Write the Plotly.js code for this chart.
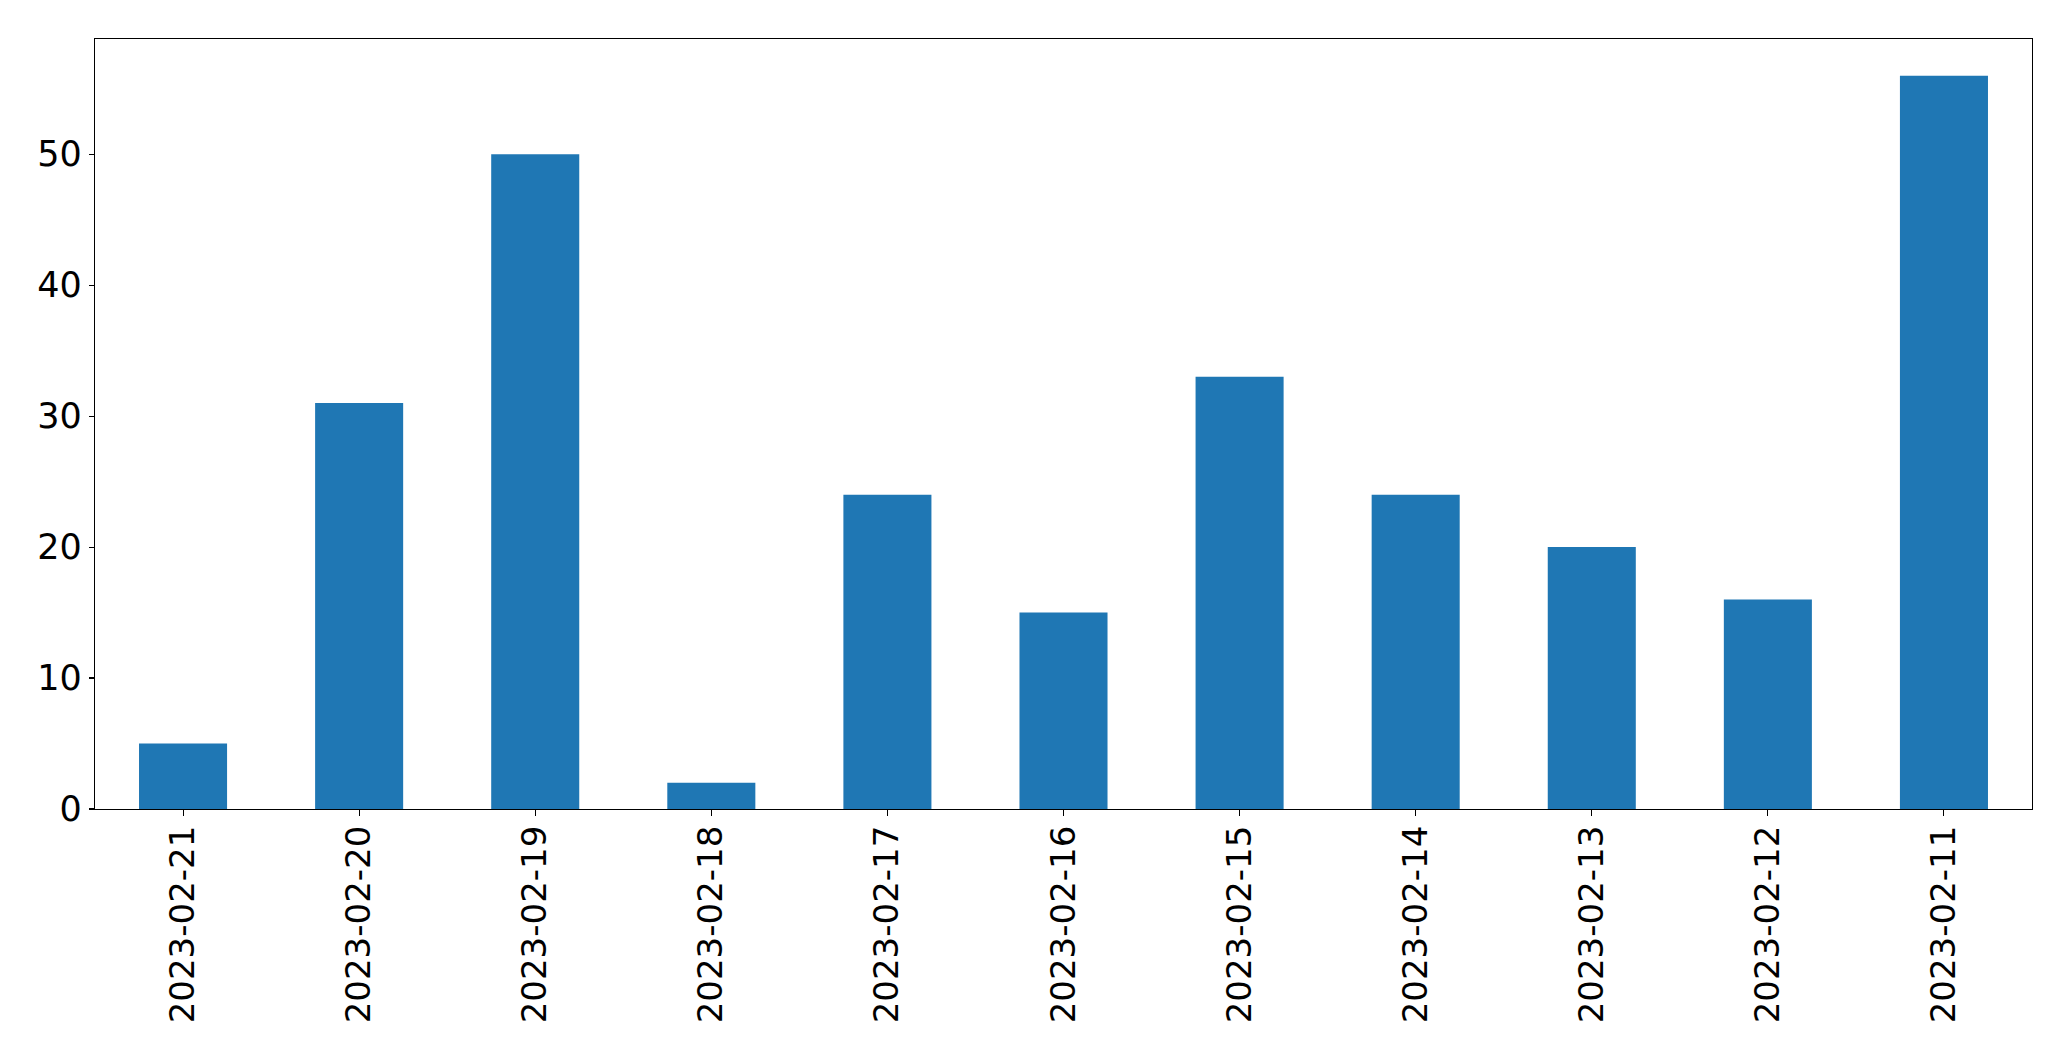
<!DOCTYPE html>
<html>
<head>
<meta charset="utf-8">
<script src="https://cdn.plot.ly/plotly-3.0.1.min.js"></script>
<style>html,body{margin:0;padding:0;background:#fff;}</style>
</head>
<body>
<div id="chart" style="width:2071px;height:1061px;"></div>
<script>
const dates = ["2023-02-21","2023-02-20","2023-02-19","2023-02-18","2023-02-17","2023-02-16","2023-02-15","2023-02-14","2023-02-13","2023-02-12","2023-02-11"];
const counts = [5, 31, 50, 2, 24, 15, 33, 24, 20, 16, 56];
const yTicks = [0, 10, 20, 30, 40, 50];

const trace = {
  type: 'bar',
  x: dates,
  y: counts,
  width: 0.5,
  marker: {color: '#1f77b4', line: {width: 0}},
  hoverinfo: 'x+y'
};

const layout = {
  width: 2071,
  height: 1061,
  margin: {l: 94.7, r: 39.3, t: 39.3, b: 252, pad: 0},
  paper_bgcolor: '#ffffff',
  plot_bgcolor: '#ffffff',
  showlegend: false,
  font: {family: 'DejaVu Sans', size: 34, color: '#000000'},
  xaxis: {
    type: 'category',
    range: [-0.5, dates.length - 0.5],
    tickangle: -90,
    ticks: 'outside',
    ticklen: 6,
    tickwidth: 1.1,
    tickcolor: '#000',
    ticklabelstandoff: -4,
    showgrid: false,
    zeroline: false,
    showline: true,
    linecolor: '#000',
    linewidth: 1.1,
    mirror: true,
    tickfont: {family: 'DejaVu Sans', size: 34, color: '#000'}
  },
  yaxis: {
    range: [0, 58.8],
    tickvals: yTicks,
    ticktext: yTicks.map(String),
    ticks: 'outside',
    ticklen: 5,
    tickwidth: 1.1,
    tickcolor: '#000',
    showgrid: false,
    zeroline: false,
    showline: true,
    linecolor: '#000',
    linewidth: 1.1,
    mirror: true,
    tickfont: {family: 'DejaVu Sans', size: 35, color: '#000'}
  }
};

Plotly.newPlot('chart', [trace], layout, {displayModeBar: false, staticPlot: true});
</script>
</body>
</html>
